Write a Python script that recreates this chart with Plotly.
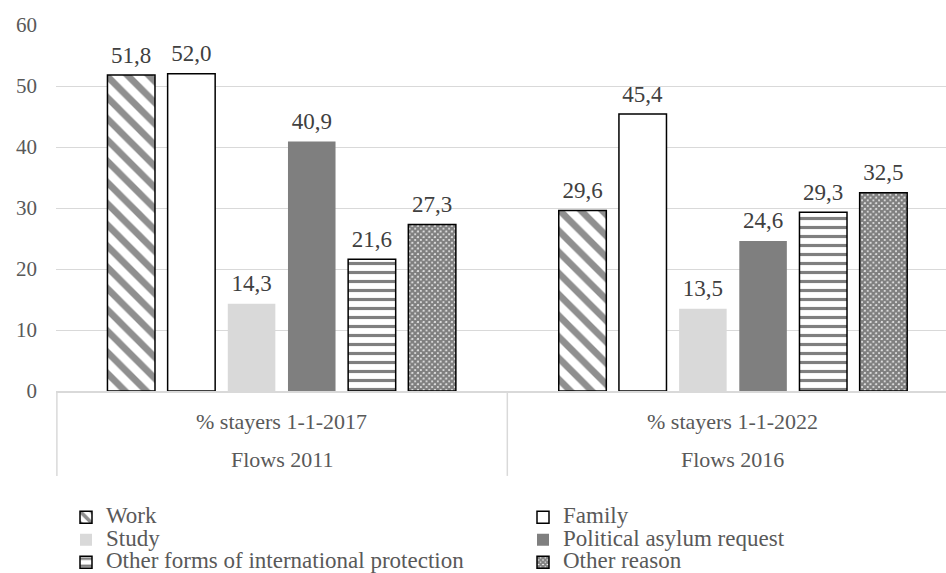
import plotly.graph_objects as go

# Category levels of the x axis
periods = ["% stayers 1-1-2017", "% stayers 1-1-2022"]
cohorts = ["Flows 2011", "Flows 2016"]

# Share of stayers by reason for the permit (%)
reasons = ["Work", "Family", "Study", "Political asylum request",
           "Other forms of international protection", "Other reason"]
work = [51.8, 29.6]
family = [52.0, 45.4]
study = [14.3, 13.5]
asylum = [40.9, 24.6]
other_protection = [21.6, 29.3]
other_reason = [27.3, 32.5]
series = [work, family, study, asylum, other_protection, other_reason]

y_ticks = [0, 10, 20, 30, 40, 50, 60]

FONT = "Liberation Serif"
GRID = "#d9d9d9"
TEXT = "#595959"

outline = dict(color="black", width=1.5)
markers = [
    dict(color="white", line=outline,
         pattern=dict(shape="\\", fgcolor="#202020", bgcolor="white",
                      size=15, solidity=0.45)),
    dict(color="white", line=outline),
    dict(color="#d9d9d9", line=dict(width=0)),
    dict(color="#7f7f7f", line=dict(width=0)),
    dict(color="white", line=outline,
         pattern=dict(shape="-", fgcolor="black", bgcolor="white",
                      size=9, solidity=0.35)),
    dict(color="white", line=outline,
         pattern=dict(shape="x", fgcolor="black", bgcolor="white",
                      size=4, solidity=0.85)),
]
# left legend column holds Work / Study / Other forms, right one the rest
legend_ids = ["legend", "legend2", "legend", "legend2", "legend", "legend2"]

fig = go.Figure()
for name, vals, mk, lg in zip(reasons, series, markers, legend_ids):
    fig.add_trace(go.Bar(
        x=periods, y=vals,
        name=f"<span style='font-size:23px'>{name}</span>",
        marker=mk,
        legend=lg,
        texttemplate="<span style='font-size:23px'>%{y:.1f}</span><br>\u00a0",
        textposition="outside",
        textangle=0,
        constraintext="none",
        cliponaxis=False,
        textfont=dict(family=FONT, size=6.5, color="#404040"),
        hoverinfo="skip",
    ))

# two levels of category labels below the axis
annotations = []
for p, c in zip(periods, cohorts):
    annotations.append(dict(x=p, xref="x", y=-0.082, yref="paper", text=p,
                            showarrow=False, yanchor="middle",
                            font=dict(family=FONT, size=22, color=TEXT)))
    annotations.append(dict(x=p, xref="x", y=-0.186, yref="paper", text=c,
                            showarrow=False, yanchor="middle",
                            font=dict(family=FONT, size=22, color=TEXT)))

# dividers between the category groups
divider = dict(color=GRID, width=1.5)
shapes = [
    dict(type="line", xref="paper", x0=0.001, x1=0.001, yref="paper",
         y0=0, y1=-0.232, line=divider),
    dict(type="line", xref="x", x0=0.5, x1=0.5, yref="paper",
         y0=0, y1=-0.232, line=divider),
]

legend_common = dict(
    xref="container", yref="container", xanchor="left", yanchor="top",
    orientation="v", bgcolor="rgba(0,0,0,0)", itemwidth=30,
    tracegroupgap=0, traceorder="normal",
    font=dict(family=FONT, size=15, color=TEXT),
)

fig.update_layout(
    width=946, height=573,
    margin=dict(l=56, r=0, t=25, b=182, autoexpand=False),
    paper_bgcolor="white", plot_bgcolor="white",
    separators=",.",
    barmode="group", bargap=0.2, bargroupgap=0.21,
    showlegend=True,
    legend=dict(x=66 / 946, y=1 - 501 / 573, **legend_common),
    legend2=dict(x=523 / 946, y=1 - 501 / 573, **legend_common),
    xaxis=dict(type="category", range=[-0.5, 1.472], showticklabels=False,
               showline=True, linecolor=GRID, linewidth=1.5,
               showgrid=False, ticks="", fixedrange=True),
    yaxis=dict(range=[0, 60], tickvals=y_ticks, showgrid=True,
               gridcolor=GRID, gridwidth=1.3, zeroline=False,
               showline=False, ticks="", ticklabelstandoff=18,
               tickfont=dict(family=FONT, size=21, color=TEXT),
               fixedrange=True),
    annotations=annotations,
    shapes=shapes,
    font=dict(family=FONT, color=TEXT),
)

fig.write_html("out.html")
